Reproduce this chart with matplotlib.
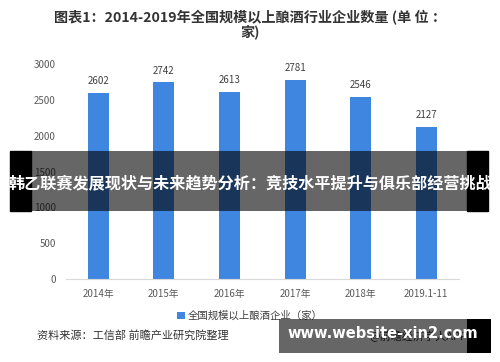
import matplotlib
matplotlib.use("Agg")
import matplotlib.pyplot as plt
from matplotlib.patches import Rectangle

plt.rcParams['font.family'] = ['Noto Sans CJK SC', 'DejaVu Sans']

categories = ["2014年", "2015年", "2016年", "2017年", "2018年", "2019.1-11"]
values = [2602, 2742, 2613, 2781, 2546, 2127]
yticks = [0, 500, 1000, 1500, 2000, 2500, 3000]
title = "图表1：2014-2019年全国规模以上酿酒行业企业数量 (单 位 ：\n家)"
legend_label = "全国规模以上酿酒企业（家）"
source = "资料来源：工信部 前瞻产业研究院整理"
credit = "@前瞻经济学人APP"
banner = "韩乙联赛发展现状与未来趋势分析：竞技水平提升与俱乐部经营挑战"
watermark = "www.website-xin2.com"

W, H = 500, 362
fig = plt.figure(figsize=(W / 100, H / 100), dpi=100)
fig.patch.set_facecolor("white")

ax = fig.add_axes([65.5 / W, 1 - 279 / H, (459 - 65.5) / W, (279 - 64) / H])
x = list(range(len(categories)))
bars = ax.bar(x, values, width=0.32, color="#3F86E0", label=legend_label)
for xi, v in zip(x, values):
    ax.annotate(str(v), (xi, v), xytext=(0, 5), textcoords="offset points",
                ha="center", va="bottom", fontsize=7, color="#404040")
ax.set_xlim(-0.5, len(categories) - 0.5)
ax.set_ylim(0, 3000)
ax.set_yticks(yticks)
ax.set_yticklabels([str(t) for t in yticks], fontsize=7, color="#595959")
ax.set_xticks(x)
ax.set_xticklabels(categories, fontsize=7, color="#595959")
ax.tick_params(length=0, pad=7)
for s in ["top", "right", "left"]:
    ax.spines[s].set_visible(False)
ax.spines["bottom"].set_color("#D9D9D9")

fig.text(0.5, 1 - 25 / H, title, ha="center", va="center", fontsize=10.2,
         fontweight="bold", color="#333333", linespacing=0.95)

fig.legend(handles=[bars], labels=[legend_label], loc="center",
           bbox_to_anchor=(0.5, 1 - 316 / H), frameon=False, fontsize=7.5,
           handlelength=0.7, handleheight=0.7, handletextpad=0.3,
           labelcolor="#404040")

fig.text(37 / W, 1 - 335 / H, source, ha="left", va="center", fontsize=8,
         color="#333333")
fig.text(467 / W, 1 - 336 / H, credit, ha="right", va="center", fontsize=8,
         color="#333333")

# banner overlay
fig.add_artist(Rectangle((10 / W, 1 - 211 / H), 21 / W, 60 / H,
                         transform=fig.transFigure, color="black", zorder=10))
fig.add_artist(Rectangle((31 / W, 1 - 211 / H), 436 / W, 60 / H,
                         transform=fig.transFigure, color="black", alpha=0.6,
                         lw=0, zorder=10))
fig.add_artist(Rectangle((467 / W, 1 - 211 / H), 21 / W, 60 / H,
                         transform=fig.transFigure, color="black", zorder=10))
fig.text(0.5, 1 - 183 / H, banner, ha="center", va="center", fontsize=11.6,
         fontweight="bold", color="white", zorder=11)

# watermark overlay
fig.add_artist(Rectangle((279 / W, 1 - 353 / H), 188 / W, 34 / H,
                         transform=fig.transFigure, color="black", alpha=0.6,
                         lw=0, zorder=10))
fig.add_artist(Rectangle((467 / W, 1 - 353 / H), 24 / W, 34 / H,
                         transform=fig.transFigure, color="black", lw=0,
                         zorder=10))
fig.text(383 / W, 1 - 333 / H, watermark, ha="center", va="center",
         fontsize=10.5, fontweight="bold", color="white", zorder=11,
         family="DejaVu Sans")

fig.savefig("out.png", dpi=100)
